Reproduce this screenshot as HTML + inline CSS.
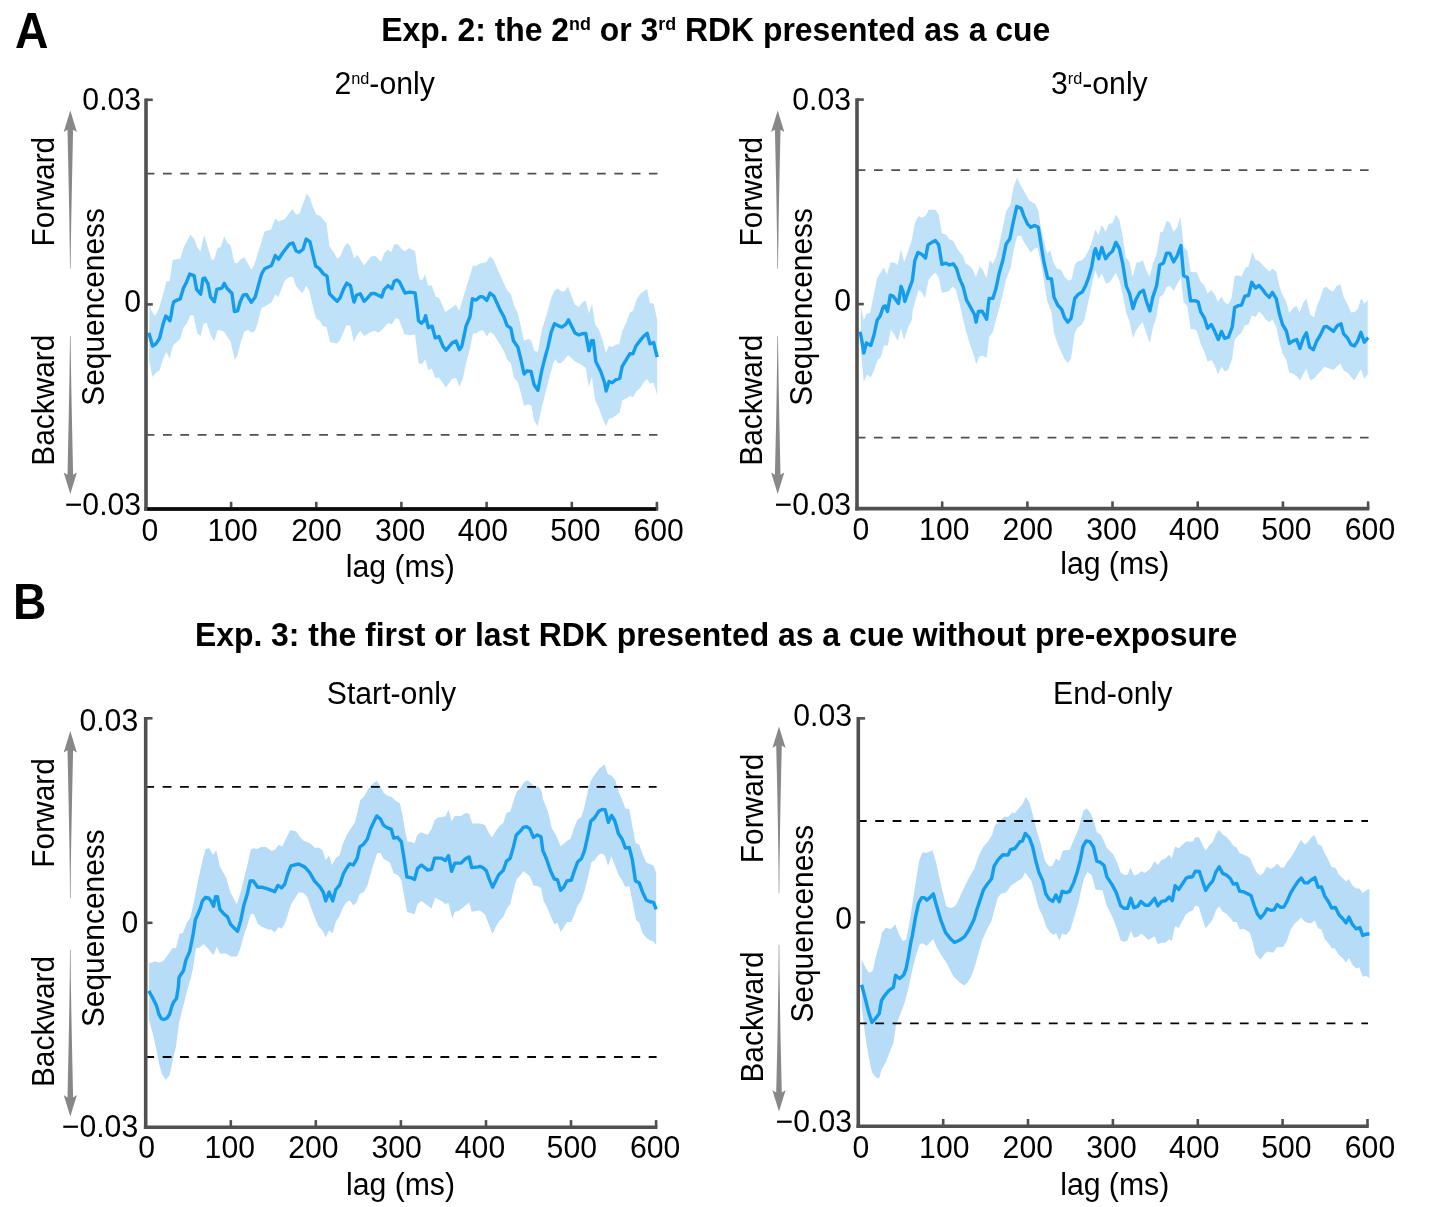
<!DOCTYPE html>
<html lang="en"><head><meta charset="utf-8"><title>Sequenceness figure</title>
<style>
html,body{margin:0;padding:0;background:#fff;}
body{width:1430px;height:1207px;overflow:hidden;}
svg{display:block;will-change:transform;}
text{font-family:"Liberation Sans",Arial,Helvetica,sans-serif;fill:#000;}
.r{font-size:30.2px;}
.b{font-size:31.9px;font-weight:bold;}
.L{font-size:46.3px;font-weight:bold;}
.m{text-anchor:middle;}
.e{text-anchor:end;}
.v{font-size:29.9px;text-anchor:middle;}
</style></head><body>
<svg width="1430" height="1207" viewBox="0 0 1430 1207">
<text transform="translate(15.0 47.8) scale(1 1.09)" class="L">A</text>
<text transform="translate(13.1 618.9) scale(1 1.09)" class="L">B</text>
<text transform="translate(715.7 41.1) scale(1 1.02)" class="b m">Exp. 2: the 2<tspan font-size="56%" dy="-0.62em">nd</tspan><tspan dy="0.347em"> or 3</tspan><tspan font-size="56%" dy="-0.62em">rd</tspan><tspan dy="0.347em"> RDK presented as a cue</tspan></text>
<text transform="translate(716.0 645.7) scale(1 1.02)" class="b m">Exp. 3: the first or last RDK presented as a cue without pre-exposure</text>
<g id="P1">
<path d="M149.4 303.3 L151.3 310.8 L155.1 315.9 L158.9 308.3 L162.7 295.7 L166.4 281.3 L169.6 281.3 L172.7 259.9 L180.3 258.6 L183.4 247.9 L190.3 234.7 L194.1 238.5 L197.3 247.3 L200.4 251.7 L201.7 245.4 L204.2 234.7 L208.0 247.9 L211.7 259.9 L214.3 259.2 L217.4 247.9 L220.6 247.3 L224.3 236.3 L227.5 242.9 L230.6 245.4 L234.4 262.4 L236.9 263.6 L240.7 259.2 L244.5 257.3 L247.6 263.0 L251.4 269.9 L254.5 264.3 L258.3 251.7 L264.6 231.5 L270.9 229.7 L275.3 218.3 L278.5 221.5 L284.8 219.0 L292.3 208.9 L296.1 214.5 L299.2 213.9 L306.8 193.8 L309.9 197.6 L313.1 207.6 L316.2 214.5 L320.0 215.8 L326.4 223.3 L329.5 246.6 L333.9 252.2 L337.1 258.5 L340.2 256.6 L344.0 247.2 L347.1 242.8 L350.3 245.9 L354.1 258.5 L357.2 254.8 L360.3 259.2 L364.1 265.5 L371.0 256.6 L375.5 256.0 L381.1 261.7 L384.3 252.9 L388.0 249.7 L391.2 252.2 L394.3 244.3 L397.5 244.3 L403.1 250.3 L405.7 251.0 L408.8 248.1 L415.1 251.0 L417.6 270.5 L419.5 279.3 L422.0 280.6 L424.8 274.3 L428.3 285.6 L431.8 285.6 L435.9 296.9 L439.0 297.6 L445.3 312.0 L448.5 310.1 L456.0 304.5 L459.2 310.8 L466.1 288.1 L473.0 265.5 L476.2 266.1 L479.9 263.6 L486.2 262.3 L490.0 256.6 L493.2 258.9 L500.1 275.2 L507.1 290.3 L510.8 294.1 L514.0 305.5 L517.8 313.0 L524.1 340.7 L528.5 338.8 L531.4 340.7 L534.1 350.8 L537.9 352.0 L541.7 330.6 L546.7 314.3 L551.7 296.6 L554.9 290.3 L558.0 288.5 L561.8 291.6 L565.0 291.0 L568.1 286.6 L571.3 295.4 L575.0 304.8 L578.8 307.3 L582.6 302.3 L585.7 300.4 L588.9 313.6 L592.0 304.2 L595.2 324.3 L599.0 330.0 L602.7 340.7 L605.9 352.7 L609.0 345.7 L612.2 347.0 L615.9 344.5 L619.1 344.5 L622.2 331.3 L626.0 323.1 L629.8 312.4 L632.9 311.1 L636.7 299.2 L640.5 293.5 L647.0 289.1 L649.9 302.9 L653.7 303.6 L657.2 319.9 L657.2 395.4 L653.7 382.8 L649.9 383.4 L647.2 379.0 L643.6 382.2 L640.5 387.8 L636.7 391.0 L632.9 397.3 L629.8 396.0 L626.0 398.5 L622.2 400.4 L619.7 412.4 L615.9 415.5 L612.2 418.0 L609.0 418.7 L605.9 426.2 L602.7 418.7 L599.0 408.6 L595.2 400.4 L591.8 376.5 L588.9 387.2 L585.7 367.7 L578.8 363.3 L575.0 361.4 L568.1 355.1 L561.8 362.7 L558.0 363.3 L554.9 358.9 L551.1 370.8 L545.5 392.9 L541.7 408.0 L537.7 426.6 L534.1 420.6 L531.4 405.5 L527.8 404.2 L524.1 406.1 L520.9 392.9 L517.8 382.2 L514.0 377.8 L510.8 363.4 L507.1 359.6 L503.9 350.8 L493.8 334.4 L490.0 332.1 L486.9 336.5 L483.1 330.2 L479.9 330.8 L476.2 333.4 L473.0 333.4 L469.9 349.1 L466.1 362.9 L462.9 378.7 L459.4 386.6 L456.0 378.0 L452.2 378.7 L445.7 387.5 L439.0 377.4 L435.2 378.0 L431.8 368.6 L428.3 369.9 L425.2 359.2 L422.0 364.2 L418.5 362.9 L417.0 350.3 L415.1 334.6 L409.4 335.2 L404.4 334.0 L398.7 318.9 L395.6 318.3 L391.8 324.5 L388.0 322.9 L381.7 330.2 L378.0 332.7 L374.8 330.8 L371.0 332.1 L364.1 335.9 L360.3 330.8 L356.6 335.9 L353.8 342.2 L350.3 325.8 L346.5 325.2 L340.2 339.7 L337.1 343.4 L330.1 342.2 L326.4 327.1 L322.6 325.9 L320.0 320.9 L316.2 318.4 L313.1 307.7 L309.3 290.7 L306.2 285.7 L302.4 293.2 L296.1 286.3 L292.9 276.9 L289.2 276.9 L284.8 280.6 L278.5 296.9 L275.3 294.4 L271.5 302.6 L261.5 308.3 L257.1 325.2 L254.8 330.9 L251.8 332.8 L248.0 330.0 L244.5 331.5 L240.7 342.2 L237.6 355.5 L234.7 359.9 L230.6 341.6 L224.3 332.2 L221.2 330.5 L217.4 330.3 L214.3 341.4 L210.5 334.7 L206.7 323.0 L203.6 323.4 L200.7 335.9 L197.3 333.4 L193.5 315.2 L190.3 315.2 L187.2 323.0 L183.4 327.8 L180.3 338.5 L173.0 345.4 L169.6 358.6 L166.4 352.1 L163.3 358.6 L159.5 370.6 L155.7 373.1 L152.6 376.9 L149.1 360.5Z" fill="#c0e2f9"/>
<line x1="145.6" y1="173.7" x2="657.4" y2="173.7" stroke="#505050" stroke-width="1.75" stroke-dasharray="8.8 8.56"/>
<line x1="145.6" y1="434.8" x2="657.4" y2="434.8" stroke="#505050" stroke-width="1.75" stroke-dasharray="8.8 8.56"/>
<path d="M148.8 332.8 L152.6 346.0 L155.7 344.1 L159.5 338.5 L163.3 323.4 L165.8 316.1 L167.1 317.1 L169.8 320.8 L171.2 315.2 L172.5 306.4 L173.7 302.0 L176.5 300.3 L180.3 298.8 L183.4 288.2 L186.6 281.9 L189.7 274.1 L194.1 275.6 L196.6 289.4 L200.7 294.2 L202.9 278.7 L204.8 278.1 L208.0 283.8 L210.5 297.0 L214.3 301.8 L216.8 289.4 L221.8 288.2 L224.3 283.4 L226.9 288.2 L231.9 293.2 L234.4 311.5 L237.6 310.8 L240.1 302.0 L243.2 295.1 L246.4 294.5 L251.4 302.3 L255.2 297.0 L259.0 283.1 L261.5 274.3 L264.6 268.7 L271.5 265.5 L275.3 255.5 L278.5 259.2 L283.5 251.7 L289.2 244.4 L292.9 242.9 L296.1 251.0 L299.2 252.3 L303.0 249.2 L306.2 239.1 L309.9 241.6 L313.1 255.4 L315.7 266.1 L319.4 268.6 L323.2 273.6 L327.0 276.2 L329.5 293.8 L333.9 298.2 L337.1 301.3 L340.2 297.6 L343.4 289.4 L346.8 283.1 L350.5 285.6 L352.8 296.9 L354.1 302.0 L356.6 295.0 L360.3 293.8 L364.1 301.3 L367.3 298.2 L371.0 293.8 L374.8 293.4 L378.6 295.4 L381.7 296.9 L384.3 289.4 L388.0 285.6 L391.8 288.7 L394.3 281.2 L396.9 279.9 L399.4 281.8 L405.0 293.1 L409.4 292.1 L415.1 292.9 L417.0 307.0 L418.5 320.8 L421.4 323.3 L423.9 320.8 L425.6 315.7 L428.3 327.7 L432.1 326.2 L435.2 337.8 L439.0 336.5 L442.8 345.9 L445.9 350.3 L452.2 342.8 L456.0 340.9 L459.4 349.7 L461.7 346.6 L466.1 325.8 L469.9 317.0 L472.4 298.8 L476.2 300.1 L479.9 296.7 L483.1 296.9 L486.9 300.4 L490.0 293.1 L493.8 296.0 L496.4 301.7 L500.1 309.9 L503.9 316.8 L507.1 325.6 L510.8 328.1 L513.4 340.7 L517.8 346.9 L520.9 359.5 L524.1 374.0 L527.2 370.8 L531.0 371.5 L534.1 384.7 L537.9 390.3 L541.7 370.8 L544.8 358.3 L548.0 346.9 L551.1 332.5 L554.5 323.7 L558.0 325.6 L561.8 327.1 L565.6 324.6 L568.5 319.9 L571.3 325.6 L575.0 333.1 L578.8 335.0 L582.0 333.8 L585.7 333.4 L588.9 350.8 L591.4 340.7 L593.3 340.7 L595.8 361.4 L600.8 371.5 L604.6 382.8 L606.1 391.0 L609.0 381.5 L612.2 382.8 L615.9 379.7 L619.7 378.4 L622.2 366.4 L626.0 360.1 L629.8 353.8 L632.9 353.8 L636.1 345.7 L640.5 340.1 L643.6 336.3 L647.2 333.4 L649.9 343.8 L653.7 342.6 L656.2 353.3 L657.2 357.1" fill="none" stroke="#149ced" stroke-width="3.4" stroke-linejoin="round" stroke-linecap="butt"/>
<line x1="231.1" y1="509.0" x2="231.1" y2="501.8" stroke="#505050" stroke-width="2.6"/>
<line x1="316.3" y1="509.0" x2="316.3" y2="501.8" stroke="#505050" stroke-width="2.6"/>
<line x1="401.4" y1="509.0" x2="401.4" y2="501.8" stroke="#505050" stroke-width="2.6"/>
<line x1="486.6" y1="509.0" x2="486.6" y2="501.8" stroke="#505050" stroke-width="2.6"/>
<line x1="571.8" y1="509.0" x2="571.8" y2="501.8" stroke="#505050" stroke-width="2.6"/>
<line x1="656.9" y1="509.0" x2="656.9" y2="501.8" stroke="#505050" stroke-width="2.6"/>
<line x1="146.0" y1="99.8" x2="152.8" y2="99.8" stroke="#505050" stroke-width="2.6"/>
<line x1="146.0" y1="304.4" x2="152.8" y2="304.4" stroke="#505050" stroke-width="2.6"/>
<line x1="146.0" y1="98.5" x2="146.0" y2="510.8" stroke="#505050" stroke-width="3.6"/>
<line x1="144.2" y1="509.0" x2="658.2" y2="509.0" stroke="#505050" stroke-width="3.6"/>
<line x1="147.3" y1="509.0" x2="656.1" y2="509.0" stroke="#0a0a0a" stroke-width="3.6"/>
<text transform="translate(150.0 540.8) scale(1 1.045)" class="r m">0</text>
<text transform="translate(232.6 540.8) scale(1 1.045)" class="r m">100</text>
<text transform="translate(316.5 540.8) scale(1 1.045)" class="r m">200</text>
<text transform="translate(400.1 540.8) scale(1 1.045)" class="r m">300</text>
<text transform="translate(482.9 540.8) scale(1 1.045)" class="r m">400</text>
<text transform="translate(575.4 540.8) scale(1 1.045)" class="r m">500</text>
<text transform="translate(658.6 540.8) scale(1 1.045)" class="r m">600</text>
<text transform="translate(400.4 577.0) scale(1 1.02)" class="r m">lag (ms)</text>
<text transform="translate(141.1 109.5) scale(1 1.045)" class="r e">0.03</text>
<text transform="translate(141.1 311.5) scale(1 1.045)" class="r e">0</text>
<text transform="translate(141.1 514.7) scale(1 1.045)" class="r e">−0.03</text>
<text transform="translate(384.6 93.6) scale(1 1.02)" class="r m">2<tspan font-size="54%" dy="-0.56em">nd</tspan><tspan dy="0.302em">-only</tspan></text>
<text transform="translate(104.2 306.9) rotate(-90) scale(1 1.02)" class="v">Sequenceness</text>
<text transform="translate(54.3 191.6) rotate(-90) scale(1 1.02)" class="v">Forward</text>
<text transform="translate(54.3 400.2) rotate(-90) scale(1 1.02)" class="v">Backward</text>
<path d="M70.3 110.6 L76.9 132.0 L73.1 129.7 L72.0 181.4 L71.3 217.4 L70.8 250.4 L70.6 268.4 L70.0 268.4 L69.8 250.4 L69.3 217.4 L68.6 181.4 L67.5 129.7 L63.7 132.0Z" fill="#888888"/>
<path d="M70.3 493.9 L76.9 472.5 L73.1 474.8 L72.0 423.1 L71.3 387.1 L70.8 354.1 L70.6 336.1 L70.0 336.1 L69.8 354.1 L69.3 387.1 L68.6 423.1 L67.5 474.8 L63.7 472.5Z" fill="#888888"/>
</g>
<g id="P2">
<path d="M860.7 307.1 L863.8 320.3 L866.4 314.1 L870.1 312.8 L873.3 297.1 L877.1 278.2 L883.7 267.6 L887.1 274.5 L890.3 262.5 L894.1 262.5 L897.8 265.0 L901.0 249.3 L904.1 261.9 L907.9 251.8 L911.7 240.5 L914.8 222.9 L918.6 215.9 L921.7 217.8 L925.5 215.9 L928.7 209.7 L935.6 209.7 L938.7 214.7 L941.9 233.6 L945.7 234.2 L949.4 239.2 L953.2 241.1 L958.3 250.6 L962.7 255.6 L965.8 263.8 L969.6 265.7 L972.7 269.4 L975.9 277.0 L979.7 266.3 L982.8 270.1 L986.6 278.3 L989.7 260.0 L992.9 263.8 L996.0 256.9 L999.2 244.3 L1006.1 211.5 L1010.5 204.0 L1013.6 186.4 L1017.2 177.6 L1019.9 183.8 L1025.0 192.7 L1029.4 200.8 L1035.1 204.0 L1038.3 210.3 L1040.8 227.3 L1043.9 240.5 L1047.1 253.7 L1050.2 249.9 L1053.4 262.5 L1057.1 268.8 L1060.9 269.4 L1064.7 277.0 L1068.5 280.8 L1071.6 279.5 L1074.8 264.4 L1077.9 261.3 L1081.7 260.6 L1085.5 256.2 L1089.2 248.7 L1093.0 238.0 L1095.5 229.2 L1098.3 235.5 L1101.8 224.8 L1105.6 231.7 L1108.7 224.1 L1112.5 222.9 L1115.9 214.7 L1119.4 219.7 L1122.6 235.5 L1125.7 256.9 L1129.5 261.9 L1132.7 277.0 L1136.4 262.5 L1139.6 262.5 L1142.7 260.0 L1146.5 270.7 L1149.7 276.4 L1152.8 263.8 L1156.6 253.7 L1160.3 232.3 L1162.9 231.7 L1166.6 221.0 L1169.8 222.2 L1173.6 231.7 L1177.3 227.3 L1180.5 216.6 L1183.6 246.8 L1187.4 250.6 L1190.6 272.0 L1196.9 272.2 L1200.7 281.7 L1204.5 285.5 L1207.6 293.6 L1211.4 289.9 L1215.2 295.5 L1217.9 301.8 L1221.5 296.8 L1225.2 303.1 L1228.4 304.3 L1231.5 298.0 L1234.7 276.0 L1238.5 275.4 L1241.6 276.6 L1245.4 267.8 L1248.5 266.6 L1252.3 252.1 L1255.5 259.7 L1259.0 260.9 L1262.4 264.7 L1265.5 267.8 L1269.3 271.6 L1272.4 268.5 L1276.2 271.6 L1279.4 286.1 L1282.5 294.9 L1286.3 301.8 L1289.2 313.1 L1293.2 308.1 L1296.7 305.6 L1299.5 313.1 L1303.3 302.4 L1306.4 298.7 L1310.2 314.4 L1314.0 317.6 L1316.5 306.9 L1320.3 298.0 L1323.4 288.0 L1326.6 286.7 L1329.7 289.9 L1332.9 291.7 L1336.6 286.1 L1340.4 284.2 L1343.6 296.8 L1347.3 303.7 L1351.1 312.5 L1354.3 311.9 L1358.0 308.7 L1361.2 298.0 L1364.3 303.7 L1367.7 299.9 L1367.7 374.3 L1364.3 378.7 L1360.9 369.3 L1358.0 374.3 L1354.3 380.6 L1351.1 376.9 L1347.3 372.4 L1343.6 370.6 L1340.4 363.6 L1337.3 366.2 L1333.5 369.9 L1326.6 367.4 L1324.1 366.8 L1320.3 371.8 L1316.5 375.6 L1314.0 378.7 L1310.2 380.6 L1306.4 368.7 L1303.3 374.3 L1299.9 380.6 L1296.7 376.2 L1293.2 373.7 L1289.2 372.4 L1286.3 359.9 L1282.5 353.6 L1279.4 341.6 L1276.2 327.1 L1272.4 319.6 L1269.3 322.1 L1265.5 319.6 L1262.4 314.5 L1259.0 311.4 L1255.5 317.1 L1251.7 315.2 L1248.5 324.6 L1244.8 325.2 L1241.6 332.8 L1238.5 335.3 L1234.7 339.7 L1232.2 358.6 L1228.4 369.3 L1225.2 371.8 L1221.5 366.8 L1217.9 374.3 L1214.5 364.9 L1211.4 359.9 L1207.6 361.7 L1204.5 352.3 L1200.7 344.1 L1196.9 330.9 L1193.8 329.0 L1190.6 329.2 L1187.4 306.5 L1183.6 302.1 L1180.9 277.6 L1177.3 283.8 L1173.6 290.8 L1169.8 285.7 L1166.6 287.0 L1163.5 294.5 L1159.7 297.1 L1156.6 315.9 L1152.8 328.5 L1149.7 343.0 L1146.5 333.6 L1142.7 322.2 L1139.6 325.4 L1135.8 331.0 L1133.0 338.0 L1129.5 321.6 L1126.4 313.4 L1122.6 294.5 L1119.4 280.7 L1115.9 272.5 L1112.5 278.2 L1109.4 282.6 L1106.2 283.8 L1101.8 273.8 L1098.7 278.8 L1095.3 270.6 L1092.4 282.6 L1088.6 300.8 L1084.2 320.3 L1081.7 324.8 L1077.9 327.3 L1074.8 332.9 L1072.9 345.5 L1071.0 358.7 L1067.8 363.1 L1064.7 359.4 L1061.5 352.4 L1057.8 344.3 L1054.0 332.9 L1051.5 312.2 L1047.1 300.8 L1043.9 280.8 L1040.8 261.9 L1037.6 247.4 L1034.5 248.7 L1030.7 252.4 L1023.8 241.7 L1021.2 236.1 L1017.2 236.1 L1013.6 250.6 L1010.5 268.2 L1006.1 279.4 L1002.9 293.9 L999.2 308.4 L996.0 319.7 L992.9 331.7 L989.1 337.3 L986.6 358.1 L982.2 355.6 L979.0 356.9 L976.3 364.4 L974.6 358.1 L970.8 346.8 L966.4 332.9 L963.3 320.3 L959.5 303.4 L955.7 289.5 L952.6 286.4 L949.4 290.8 L945.7 292.0 L941.9 292.7 L938.7 277.6 L935.6 272.5 L931.8 275.7 L928.7 279.4 L924.9 298.3 L921.7 292.0 L918.6 290.1 L915.5 300.8 L912.9 309.0 L911.7 320.3 L907.9 327.9 L904.1 339.9 L901.0 328.5 L897.8 341.1 L894.1 334.2 L890.9 329.8 L887.8 345.5 L884.0 345.5 L880.8 356.9 L877.7 360.0 L873.9 370.7 L870.8 377.6 L867.0 374.5 L863.8 382.0 L860.7 350.6Z" fill="#c0e2f9"/>
<line x1="856.6" y1="170.2" x2="1368.6" y2="170.2" stroke="#505050" stroke-width="1.75" stroke-dasharray="8.8 8.56"/>
<line x1="856.6" y1="437.5" x2="1368.6" y2="437.5" stroke="#505050" stroke-width="1.75" stroke-dasharray="8.8 8.56"/>
<path d="M860.1 331.7 L862.0 341.7 L863.8 353.1 L866.4 343.0 L870.8 345.5 L873.9 335.5 L877.1 320.3 L880.2 315.9 L883.4 306.5 L885.2 305.9 L887.5 311.5 L890.3 295.2 L893.4 296.4 L898.5 303.4 L901.0 286.4 L902.9 290.8 L904.8 301.5 L907.9 292.7 L912.3 280.7 L914.8 260.6 L918.0 252.4 L921.7 254.3 L925.5 258.1 L928.0 244.9 L931.8 242.4 L935.3 240.5 L938.7 244.9 L941.9 264.4 L945.7 263.1 L949.4 265.0 L953.2 263.8 L956.4 268.2 L959.5 278.3 L963.3 287.1 L966.4 299.7 L970.8 307.8 L974.6 314.8 L976.1 322.2 L978.4 311.5 L982.2 311.3 L986.6 319.3 L989.1 298.4 L992.9 298.4 L996.0 288.3 L999.2 273.2 L1002.9 260.0 L1006.1 244.3 L1009.9 238.6 L1013.6 220.3 L1016.8 206.5 L1021.2 208.4 L1023.8 215.9 L1027.6 224.1 L1030.7 227.3 L1034.5 225.4 L1038.3 227.3 L1040.8 243.0 L1043.9 261.9 L1047.7 278.3 L1051.5 278.9 L1054.0 297.1 L1057.8 305.3 L1061.5 309.1 L1064.7 317.8 L1067.8 322.2 L1071.0 318.5 L1072.9 308.4 L1074.8 298.3 L1077.9 294.6 L1082.3 292.1 L1085.5 285.8 L1088.6 277.6 L1091.7 266.9 L1094.3 251.8 L1095.5 248.7 L1098.7 258.7 L1101.8 247.4 L1105.6 258.7 L1109.4 253.7 L1112.5 251.2 L1115.9 242.4 L1119.4 248.7 L1122.6 263.1 L1126.4 286.4 L1129.5 293.4 L1133.0 308.5 L1135.8 299.7 L1139.6 292.7 L1143.4 290.2 L1146.5 301.5 L1149.9 311.0 L1152.8 297.1 L1156.6 285.8 L1159.7 265.0 L1163.5 263.1 L1166.6 253.1 L1169.8 253.1 L1173.6 261.9 L1177.3 255.6 L1180.9 245.5 L1183.6 275.7 L1187.4 277.6 L1190.6 300.9 L1195.0 300.6 L1198.2 301.8 L1200.7 311.9 L1204.5 318.2 L1207.6 328.3 L1211.4 324.5 L1214.5 330.8 L1218.3 339.6 L1221.5 331.4 L1224.6 338.3 L1228.4 337.1 L1232.2 327.0 L1234.7 307.5 L1238.5 305.6 L1241.6 305.0 L1244.8 296.2 L1248.5 295.5 L1251.7 282.3 L1255.5 288.0 L1259.0 285.5 L1262.4 289.2 L1265.5 293.6 L1269.3 297.4 L1272.4 292.4 L1276.2 298.7 L1279.4 313.8 L1282.5 324.5 L1286.3 330.8 L1289.4 343.4 L1293.2 340.8 L1296.7 339.6 L1299.9 348.4 L1303.3 338.3 L1306.4 332.7 L1309.6 347.1 L1313.4 349.7 L1316.5 341.5 L1320.3 335.2 L1324.1 327.0 L1326.6 326.4 L1333.5 331.4 L1337.3 325.7 L1341.0 323.8 L1343.6 333.9 L1347.3 337.7 L1351.1 344.6 L1354.3 345.9 L1357.4 341.5 L1360.9 332.3 L1364.3 342.1 L1368.1 337.7" fill="none" stroke="#149ced" stroke-width="3.4" stroke-linejoin="round" stroke-linecap="butt"/>
<line x1="942.2" y1="508.6" x2="942.2" y2="501.4" stroke="#505050" stroke-width="2.6"/>
<line x1="1027.4" y1="508.6" x2="1027.4" y2="501.4" stroke="#505050" stroke-width="2.6"/>
<line x1="1112.5" y1="508.6" x2="1112.5" y2="501.4" stroke="#505050" stroke-width="2.6"/>
<line x1="1197.7" y1="508.6" x2="1197.7" y2="501.4" stroke="#505050" stroke-width="2.6"/>
<line x1="1282.9" y1="508.6" x2="1282.9" y2="501.4" stroke="#505050" stroke-width="2.6"/>
<line x1="1368.1" y1="508.6" x2="1368.1" y2="501.4" stroke="#505050" stroke-width="2.6"/>
<line x1="857.0" y1="99.6" x2="863.8" y2="99.6" stroke="#505050" stroke-width="2.6"/>
<line x1="857.0" y1="304.1" x2="863.8" y2="304.1" stroke="#505050" stroke-width="2.6"/>
<line x1="857.0" y1="98.3" x2="857.0" y2="510.4" stroke="#505050" stroke-width="3.6"/>
<line x1="855.2" y1="508.6" x2="1369.4" y2="508.6" stroke="#505050" stroke-width="3.6"/>
<text transform="translate(861.0 540.3) scale(1 1.045)" class="r m">0</text>
<text transform="translate(944.3 540.3) scale(1 1.045)" class="r m">100</text>
<text transform="translate(1027.8 540.3) scale(1 1.045)" class="r m">200</text>
<text transform="translate(1111.5 540.3) scale(1 1.045)" class="r m">300</text>
<text transform="translate(1194.3 540.3) scale(1 1.045)" class="r m">400</text>
<text transform="translate(1286.4 540.3) scale(1 1.045)" class="r m">500</text>
<text transform="translate(1370.0 540.3) scale(1 1.045)" class="r m">600</text>
<text transform="translate(1114.7 574.3) scale(1 1.02)" class="r m">lag (ms)</text>
<text transform="translate(851.0 109.8) scale(1 1.045)" class="r e">0.03</text>
<text transform="translate(851.0 311.4) scale(1 1.045)" class="r e">0</text>
<text transform="translate(851.0 515.1) scale(1 1.045)" class="r e">−0.03</text>
<text transform="translate(1099.3 93.5) scale(1 1.02)" class="r m">3<tspan font-size="54%" dy="-0.56em">rd</tspan><tspan dy="0.302em">-only</tspan></text>
<text transform="translate(811.6 306.9) rotate(-90) scale(1 1.02)" class="v">Sequenceness</text>
<text transform="translate(761.7 191.6) rotate(-90) scale(1 1.02)" class="v">Forward</text>
<text transform="translate(761.7 400.2) rotate(-90) scale(1 1.02)" class="v">Backward</text>
<path d="M777.7 110.6 L784.3 132.0 L780.5 129.7 L779.4 181.4 L778.7 217.4 L778.2 250.4 L778.0 268.4 L777.4 268.4 L777.2 250.4 L776.7 217.4 L776.1 181.4 L774.9 129.7 L771.1 132.0Z" fill="#888888"/>
<path d="M777.7 493.9 L784.3 472.5 L780.5 474.8 L779.4 423.1 L778.7 387.1 L778.2 354.1 L778.0 336.1 L777.4 336.1 L777.2 354.1 L776.7 387.1 L776.1 423.1 L774.9 474.8 L771.1 472.5Z" fill="#888888"/>
</g>
<g id="P3">
<path d="M149.1 963.2 L155.1 961.6 L158.9 962.6 L162.7 961.6 L167.1 955.9 L172.7 947.7 L175.9 948.3 L179.7 933.2 L182.8 933.2 L186.6 923.1 L190.3 918.1 L194.1 900.5 L197.9 881.6 L201.7 864.0 L205.5 848.9 L209.2 848.3 L213.0 855.2 L216.2 850.1 L219.9 866.5 L226.2 877.8 L230.6 892.9 L236.9 904.3 L240.7 891.7 L244.5 876.6 L247.6 864.0 L250.8 849.5 L253.9 848.3 L257.1 848.9 L260.8 847.0 L265.9 847.0 L271.5 850.8 L274.7 850.1 L278.5 845.1 L282.2 846.4 L286.0 838.8 L290.4 830.0 L296.1 831.3 L299.9 836.9 L303.6 840.7 L309.9 843.2 L315.0 848.0 L318.8 847.4 L322.6 850.6 L325.7 860.0 L329.1 855.6 L332.0 865.0 L335.8 858.1 L339.6 855.6 L342.7 844.3 L346.5 835.5 L350.3 829.2 L354.7 822.9 L358.5 807.8 L360.3 800.2 L364.1 796.4 L367.9 789.5 L371.7 784.5 L376.7 780.7 L379.9 785.7 L383.6 792.7 L387.4 795.8 L391.8 797.1 L395.6 800.8 L400.0 803.4 L402.5 815.3 L405.0 830.4 L407.6 841.7 L410.7 841.7 L414.5 843.6 L417.0 835.5 L420.8 832.3 L427.7 834.8 L431.5 829.2 L434.6 820.3 L438.4 817.2 L445.3 816.6 L448.5 809.7 L451.6 821.6 L454.8 815.9 L461.0 815.9 L466.1 812.8 L469.2 814.1 L472.4 823.5 L478.7 823.5 L480.0 823.6 L485.0 824.9 L488.8 833.0 L492.0 837.4 L495.7 831.2 L499.5 826.1 L503.3 823.0 L506.4 812.9 L510.2 811.6 L513.4 801.6 L516.5 792.1 L520.3 788.4 L524.1 782.1 L527.8 780.2 L531.0 783.3 L534.1 786.5 L538.5 786.5 L541.7 791.5 L542.9 799.1 L548.0 811.6 L551.7 828.0 L556.2 835.6 L560.6 846.3 L563.7 843.7 L567.5 840.6 L570.6 838.7 L573.8 828.6 L577.6 819.2 L581.3 817.3 L584.5 806.6 L588.3 789.6 L590.8 780.8 L594.5 775.1 L599.0 768.8 L604.6 764.4 L607.8 773.9 L611.5 775.8 L615.3 780.2 L618.5 791.5 L622.2 799.7 L625.4 808.5 L629.2 809.1 L632.3 825.5 L635.5 843.1 L639.2 844.4 L642.4 853.8 L646.2 862.6 L649.9 863.9 L653.7 865.8 L656.2 873.3 L656.2 945.2 L653.5 941.5 L649.9 940.2 L646.2 937.7 L642.4 932.7 L639.2 922.6 L636.1 920.1 L632.3 900.6 L629.2 886.1 L625.4 887.3 L622.2 880.4 L618.5 874.8 L614.7 864.7 L611.5 856.5 L608.1 865.9 L605.2 855.9 L602.1 853.4 L599.0 854.6 L594.5 860.3 L591.4 862.2 L588.3 876.0 L584.5 891.1 L581.3 900.6 L577.6 905.6 L574.4 914.4 L571.3 922.0 L566.9 922.0 L563.7 927.6 L560.6 932.0 L557.4 922.6 L554.3 924.5 L550.5 915.7 L547.3 908.1 L543.6 900.6 L541.0 888.0 L537.3 886.1 L533.5 885.5 L529.7 876.0 L523.4 871.0 L520.3 875.4 L516.5 879.2 L513.4 891.1 L510.2 904.3 L506.4 909.4 L503.3 916.9 L499.5 920.7 L495.7 927.0 L492.6 933.9 L488.8 924.5 L485.0 914.4 L480.0 910.6 L478.7 910.4 L471.7 911.7 L469.2 902.2 L465.5 905.4 L458.5 911.0 L454.8 911.7 L452.2 918.6 L448.5 902.9 L445.3 904.1 L441.5 901.0 L435.2 897.8 L431.5 908.5 L427.7 905.4 L421.4 901.0 L417.6 904.1 L414.5 914.2 L410.7 912.9 L406.9 911.7 L403.8 894.1 L401.3 880.2 L398.1 875.2 L393.7 873.3 L389.9 862.6 L383.6 858.8 L380.5 853.1 L377.3 853.1 L374.2 862.0 L370.4 874.5 L367.3 885.9 L363.5 892.2 L359.7 894.1 L356.6 902.2 L353.4 905.4 L349.7 900.3 L346.5 902.2 L343.4 906.6 L339.6 916.1 L335.8 921.7 L332.7 933.1 L328.9 930.6 L325.7 937.5 L322.6 930.6 L318.8 926.8 L314.4 916.7 L311.2 908.0 L307.4 897.3 L303.6 892.9 L298.6 892.3 L294.8 898.6 L291.0 904.3 L287.9 914.3 L284.8 923.8 L281.6 928.8 L278.5 926.9 L274.7 932.6 L271.5 929.4 L268.4 929.4 L260.8 926.3 L257.7 923.8 L253.9 914.3 L250.8 913.7 L247.6 924.4 L243.8 935.7 L240.1 949.0 L236.9 956.5 L230.6 956.5 L226.2 953.4 L219.9 953.4 L216.8 946.4 L213.6 955.2 L207.3 947.7 L203.6 943.9 L199.2 947.7 L196.0 948.3 L192.9 968.9 L191.0 977.1 L186.6 992.8 L182.8 1007.9 L179.0 1023.0 L175.9 1046.9 L172.1 1063.3 L169.6 1075.2 L165.8 1079.7 L162.0 1074.0 L158.9 1063.3 L156.4 1049.4 L152.6 1033.1 L149.1 1020.5Z" fill="#b6dcf7"/>
<line x1="145.29999999999998" y1="786.9" x2="656.6" y2="786.9" stroke="#050505" stroke-width="1.85" stroke-dasharray="8.8 8.56"/>
<line x1="145.29999999999998" y1="1057.0" x2="656.6" y2="1057.0" stroke="#050505" stroke-width="1.85" stroke-dasharray="8.8 8.56"/>
<path d="M148.8 990.9 L152.6 997.8 L156.4 1005.4 L158.9 1014.2 L161.4 1018.6 L163.9 1019.5 L167.1 1018.0 L169.6 1014.2 L172.1 1005.4 L174.0 1001.6 L176.5 998.5 L178.4 986.5 L179.0 977.7 L180.9 974.5 L183.4 970.8 L185.9 960.1 L189.7 951.3 L192.9 935.7 L195.4 919.4 L197.3 915.6 L200.4 908.0 L202.3 901.1 L205.5 897.3 L208.6 898.0 L211.1 901.1 L213.6 906.2 L215.5 896.7 L217.4 896.7 L219.9 909.3 L223.7 913.7 L227.5 916.9 L230.6 924.4 L234.4 928.2 L237.6 931.3 L240.7 920.6 L243.8 905.5 L247.6 892.9 L250.1 881.0 L253.3 881.0 L257.7 887.3 L262.7 887.3 L268.4 889.2 L274.7 891.7 L277.8 885.4 L281.6 887.9 L284.8 884.1 L287.9 873.4 L291.0 865.9 L298.6 864.0 L304.9 867.1 L309.9 872.8 L314.4 880.8 L320.1 887.1 L323.2 892.1 L325.7 900.9 L329.1 892.1 L332.7 900.9 L335.8 889.6 L339.6 885.2 L343.4 873.8 L346.5 868.2 L349.7 863.8 L353.4 865.0 L357.2 858.1 L359.7 846.8 L363.5 844.3 L367.3 839.2 L370.4 829.2 L374.2 821.0 L376.7 815.9 L380.5 819.1 L383.6 825.4 L387.4 827.9 L391.2 829.2 L393.7 838.0 L397.5 837.3 L401.3 841.7 L403.8 856.9 L406.9 877.0 L410.7 877.6 L414.5 879.5 L417.6 868.2 L421.4 865.0 L427.7 870.1 L431.5 869.4 L434.6 858.1 L440.9 858.1 L445.3 860.6 L448.5 855.6 L451.6 871.3 L454.8 863.1 L461.0 863.1 L465.5 858.7 L469.2 856.9 L471.7 867.6 L478.7 866.9 L480.0 866.4 L483.1 867.7 L486.3 870.8 L489.4 879.6 L492.6 887.2 L495.7 880.9 L498.9 874.6 L503.3 870.2 L506.4 861.4 L510.2 858.2 L513.4 846.9 L516.3 834.9 L519.7 831.8 L523.4 827.4 L526.6 826.7 L529.7 828.6 L533.5 837.4 L537.3 834.9 L541.0 836.8 L542.9 850.7 L546.7 859.5 L550.5 870.8 L554.3 879.0 L557.4 879.6 L560.6 890.3 L563.7 887.2 L566.9 880.9 L571.3 880.2 L574.4 870.8 L577.6 862.0 L581.3 858.8 L584.5 850.7 L587.6 836.8 L590.8 821.1 L594.5 817.9 L599.0 811.0 L602.1 809.4 L605.2 809.8 L608.4 822.3 L611.5 815.4 L614.7 820.5 L618.5 833.7 L622.2 839.3 L625.4 848.1 L629.2 847.5 L632.3 859.5 L635.5 880.9 L639.2 882.8 L642.4 891.7 L646.2 899.9 L649.9 901.8 L653.5 902.4 L656.2 909.4" fill="none" stroke="#149ced" stroke-width="3.4" stroke-linejoin="round" stroke-linecap="butt"/>
<line x1="230.8" y1="1127.3" x2="230.8" y2="1120.1" stroke="#505050" stroke-width="2.6"/>
<line x1="315.8" y1="1127.3" x2="315.8" y2="1120.1" stroke="#505050" stroke-width="2.6"/>
<line x1="400.9" y1="1127.3" x2="400.9" y2="1120.1" stroke="#505050" stroke-width="2.6"/>
<line x1="486.0" y1="1127.3" x2="486.0" y2="1120.1" stroke="#505050" stroke-width="2.6"/>
<line x1="571.0" y1="1127.3" x2="571.0" y2="1120.1" stroke="#505050" stroke-width="2.6"/>
<line x1="656.1" y1="1127.3" x2="656.1" y2="1120.1" stroke="#505050" stroke-width="2.6"/>
<line x1="145.7" y1="718.3" x2="152.5" y2="718.3" stroke="#505050" stroke-width="2.6"/>
<line x1="145.7" y1="922.8" x2="152.5" y2="922.8" stroke="#505050" stroke-width="2.6"/>
<line x1="145.7" y1="717.0" x2="145.7" y2="1129.1" stroke="#505050" stroke-width="3.6"/>
<line x1="143.9" y1="1127.3" x2="657.4" y2="1127.3" stroke="#505050" stroke-width="3.6"/>
<text transform="translate(146.6 1157.7) scale(1 1.045)" class="r m">0</text>
<text transform="translate(229.8 1157.7) scale(1 1.045)" class="r m">100</text>
<text transform="translate(313.4 1157.7) scale(1 1.045)" class="r m">200</text>
<text transform="translate(396.6 1157.7) scale(1 1.045)" class="r m">300</text>
<text transform="translate(480.0 1157.7) scale(1 1.045)" class="r m">400</text>
<text transform="translate(571.8 1157.7) scale(1 1.045)" class="r m">500</text>
<text transform="translate(655.1 1157.7) scale(1 1.045)" class="r m">600</text>
<text transform="translate(400.5 1194.8) scale(1 1.02)" class="r m">lag (ms)</text>
<text transform="translate(138.2 730.6) scale(1 1.045)" class="r e">0.03</text>
<text transform="translate(138.2 932.7) scale(1 1.045)" class="r e">0</text>
<text transform="translate(138.2 1137.1) scale(1 1.045)" class="r e">−0.03</text>
<text transform="translate(391.4 704.2) scale(1 1.02)" class="r m">Start-only</text>
<text transform="translate(104.2 928.2) rotate(-90) scale(1 1.02)" class="v">Sequenceness</text>
<text transform="translate(54.3 812.9) rotate(-90) scale(1 1.02)" class="v">Forward</text>
<text transform="translate(54.3 1021.5) rotate(-90) scale(1 1.02)" class="v">Backward</text>
<path d="M70.3 731.1 L76.9 752.5 L73.1 750.2 L72.0 801.9 L71.3 837.9 L70.8 870.9 L70.6 897.9 L70.0 897.9 L69.8 870.9 L69.3 837.9 L68.6 801.9 L67.5 750.2 L63.7 752.5Z" fill="#888888"/>
<path d="M70.3 1116.5 L76.9 1095.1 L73.1 1097.4 L72.0 1045.7 L71.3 1009.7 L70.8 976.7 L70.6 949.7 L70.0 949.7 L69.8 976.7 L69.3 1009.7 L68.6 1045.7 L67.5 1097.4 L63.7 1095.1Z" fill="#888888"/>
</g>
<g id="P4">
<path d="M861.6 959.6 L865.1 966.5 L868.9 972.8 L872.7 970.9 L875.8 957.1 L879.6 943.8 L882.1 932.2 L885.9 927.8 L890.9 929.0 L895.3 924.6 L899.1 934.7 L902.9 941.0 L906.0 939.7 L909.8 920.8 L914.2 891.9 L919.2 860.4 L922.4 852.2 L926.2 852.9 L932.4 850.3 L936.2 862.9 L940.6 883.1 L946.3 906.4 L950.7 908.0 L953.8 907.0 L957.0 903.2 L960.8 894.4 L968.3 879.3 L974.6 868.0 L978.4 856.6 L983.4 846.6 L988.5 840.9 L992.2 834.6 L994.8 825.2 L999.8 821.4 L1004.2 816.4 L1008.0 817.0 L1012.4 812.6 L1014.9 813.2 L1018.7 808.2 L1022.4 804.4 L1025.7 796.9 L1029.4 802.0 L1032.6 813.9 L1037.0 831.5 L1040.8 844.1 L1045.2 861.7 L1049.6 866.8 L1052.7 865.5 L1055.9 858.6 L1059.3 861.1 L1062.8 850.4 L1069.7 849.8 L1074.1 839.1 L1078.5 829.0 L1081.0 819.0 L1083.6 810.8 L1086.7 808.3 L1090.5 813.3 L1093.6 820.2 L1096.8 832.2 L1101.2 835.3 L1106.9 847.9 L1113.1 854.2 L1116.9 861.7 L1120.7 872.4 L1124.5 875.0 L1127.6 875.0 L1130.5 867.4 L1133.9 875.6 L1137.7 874.3 L1141.5 871.2 L1144.6 873.1 L1150.3 868.7 L1154.7 861.1 L1157.8 864.9 L1161.6 859.9 L1165.4 858.6 L1169.2 854.8 L1171.7 858.6 L1175.1 846.6 L1178.6 848.5 L1182.4 844.8 L1186.2 841.6 L1193.1 841.6 L1195.0 837.6 L1198.8 836.9 L1202.6 845.1 L1205.7 850.8 L1209.5 845.1 L1212.7 842.0 L1215.8 834.4 L1219.2 830.0 L1222.7 834.4 L1226.5 836.9 L1230.3 841.3 L1233.4 845.7 L1236.6 847.6 L1239.7 853.3 L1243.5 854.5 L1249.8 857.7 L1254.2 867.8 L1257.3 873.4 L1260.5 875.3 L1263.6 872.8 L1266.8 866.5 L1270.6 869.0 L1274.1 867.1 L1277.1 863.4 L1280.6 867.5 L1283.8 867.5 L1287.6 861.5 L1290.7 857.7 L1294.5 851.4 L1298.3 844.5 L1301.0 840.1 L1304.5 844.5 L1307.7 842.6 L1311.5 836.9 L1314.6 835.0 L1318.1 844.5 L1321.5 845.7 L1324.7 853.3 L1328.5 860.2 L1331.6 867.1 L1335.4 867.8 L1338.5 874.1 L1342.9 878.5 L1346.1 881.6 L1348.9 879.1 L1352.4 885.4 L1356.2 888.5 L1359.3 888.5 L1362.7 892.9 L1366.2 890.4 L1369.4 888.5 L1369.4 977.9 L1366.2 976.0 L1362.7 976.6 L1359.3 967.2 L1356.2 968.5 L1352.4 964.7 L1348.9 957.8 L1346.1 962.8 L1342.9 958.4 L1338.5 954.6 L1334.8 948.3 L1331.6 948.3 L1328.5 943.3 L1324.7 938.9 L1321.5 929.4 L1318.1 928.2 L1314.9 920.6 L1311.5 922.9 L1307.7 923.1 L1304.5 921.3 L1301.0 917.5 L1298.3 920.6 L1294.5 923.8 L1290.7 929.4 L1286.9 940.8 L1283.1 947.1 L1277.1 947.1 L1273.1 952.7 L1267.0 951.5 L1263.6 955.2 L1260.5 959.7 L1255.5 954.0 L1252.3 940.8 L1249.8 932.6 L1243.5 928.8 L1239.7 929.4 L1236.6 921.9 L1233.4 921.9 L1230.3 918.1 L1226.5 913.7 L1222.7 911.8 L1219.2 906.2 L1215.8 910.6 L1212.7 919.4 L1209.5 923.8 L1205.7 928.2 L1202.6 919.4 L1198.8 906.8 L1195.0 905.5 L1193.1 910.3 L1189.9 911.6 L1186.2 914.1 L1181.7 922.3 L1178.6 928.0 L1175.1 926.1 L1171.7 941.2 L1169.2 939.3 L1164.8 943.1 L1161.6 942.4 L1157.8 944.6 L1154.7 936.2 L1148.4 939.9 L1141.5 933.6 L1137.7 936.8 L1133.9 937.4 L1130.8 931.1 L1127.6 940.6 L1124.5 941.8 L1120.7 940.6 L1116.9 928.6 L1112.5 917.3 L1106.9 905.9 L1102.4 890.2 L1095.5 889.6 L1091.7 875.1 L1087.3 872.0 L1084.2 878.3 L1081.7 887.7 L1078.5 902.2 L1074.8 914.8 L1070.3 929.9 L1065.9 934.9 L1062.2 933.6 L1059.3 940.6 L1055.9 933.0 L1054.0 934.9 L1050.2 932.4 L1046.4 927.3 L1042.7 916.0 L1038.9 908.5 L1035.1 894.6 L1031.3 880.8 L1025.0 872.6 L1022.4 878.0 L1018.7 880.6 L1015.5 882.4 L1011.1 885.6 L1006.1 892.5 L1001.0 893.8 L997.9 897.6 L994.1 910.8 L991.6 920.8 L987.2 929.0 L982.2 940.1 L979.0 951.4 L975.2 965.2 L971.5 975.9 L967.7 982.2 L963.9 985.4 L959.5 982.2 L953.2 975.9 L946.9 963.4 L940.6 953.9 L936.9 947.6 L933.1 939.1 L929.9 942.6 L926.8 945.7 L922.4 943.2 L919.9 944.1 L918.0 948.9 L915.5 957.1 L911.7 972.8 L907.9 990.4 L904.1 1004.3 L900.3 1014.3 L895.9 1025.7 L893.4 1043.3 L890.3 1050.2 L885.9 1062.2 L881.5 1069.7 L879.0 1078.5 L875.8 1077.3 L872.0 1072.2 L868.9 1058.4 L865.1 1034.5 L861.6 1005.5Z" fill="#b6dcf7"/>
<line x1="857.9" y1="821.0" x2="1368.0" y2="821.0" stroke="#050505" stroke-width="1.85" stroke-dasharray="8.8 8.56"/>
<line x1="857.9" y1="1023.3" x2="1368.0" y2="1023.3" stroke="#050505" stroke-width="1.85" stroke-dasharray="8.8 8.56"/>
<path d="M861.6 984.8 L865.1 998.0 L868.9 1013.1 L872.0 1022.5 L875.8 1018.1 L879.2 1013.7 L881.5 1000.5 L885.2 994.8 L889.0 990.4 L893.4 987.3 L895.6 975.3 L899.7 978.5 L903.5 975.3 L906.0 969.0 L908.5 956.4 L911.0 941.3 L912.3 935.9 L915.5 917.1 L918.6 903.2 L921.7 897.6 L924.3 897.6 L926.8 900.1 L930.6 896.9 L933.3 893.8 L936.2 904.5 L940.6 919.6 L945.7 932.8 L950.7 939.1 L954.5 942.5 L959.5 940.3 L964.5 936.6 L969.0 929.7 L974.0 919.6 L976.5 910.8 L980.3 899.4 L983.4 890.0 L987.2 884.3 L991.6 878.7 L994.1 866.1 L998.5 859.2 L1002.9 854.8 L1008.0 855.1 L1010.5 849.7 L1014.9 848.5 L1018.7 843.4 L1020.0 841.6 L1022.5 841.0 L1025.3 833.4 L1029.4 837.8 L1032.6 846.6 L1035.7 860.5 L1038.9 872.4 L1042.7 880.6 L1045.8 893.8 L1049.0 898.9 L1052.7 901.4 L1055.9 895.1 L1059.3 901.8 L1062.2 891.3 L1065.9 892.6 L1069.7 891.3 L1073.5 883.1 L1077.3 871.8 L1080.4 859.9 L1082.9 846.6 L1086.1 841.0 L1089.9 841.6 L1093.6 847.3 L1096.8 861.1 L1100.6 862.4 L1104.1 865.5 L1106.9 876.9 L1111.9 884.4 L1116.3 892.6 L1120.7 905.8 L1123.8 908.3 L1127.6 908.3 L1130.8 898.3 L1133.9 907.7 L1137.7 906.4 L1140.8 901.4 L1145.2 905.2 L1149.0 905.2 L1154.7 898.3 L1157.8 905.8 L1161.6 901.4 L1165.4 900.8 L1169.2 897.0 L1172.3 900.8 L1175.1 885.7 L1178.6 889.4 L1181.7 885.0 L1186.2 878.1 L1189.3 876.9 L1190.0 877.2 L1192.5 876.8 L1195.3 871.3 L1199.4 871.5 L1202.6 881.6 L1205.7 890.4 L1208.9 885.4 L1212.7 881.0 L1215.8 872.2 L1219.2 866.8 L1222.7 873.4 L1226.5 875.1 L1230.3 878.5 L1233.4 884.1 L1236.8 883.5 L1239.7 891.4 L1243.5 891.7 L1251.0 895.5 L1254.2 905.5 L1257.3 913.7 L1260.5 918.1 L1264.3 913.7 L1267.0 908.7 L1270.6 910.3 L1274.1 909.9 L1277.1 904.5 L1280.6 907.4 L1283.8 907.0 L1286.9 901.7 L1290.7 892.9 L1294.5 886.6 L1298.3 881.0 L1301.4 878.1 L1304.5 882.9 L1307.7 882.9 L1311.5 879.7 L1314.9 877.6 L1318.1 887.3 L1321.5 886.9 L1324.7 896.1 L1328.5 901.7 L1331.6 908.0 L1335.4 907.4 L1339.2 915.0 L1342.9 918.7 L1346.1 922.9 L1348.9 917.1 L1352.4 924.4 L1356.2 928.8 L1359.9 927.6 L1362.7 935.5 L1366.2 934.2 L1369.4 933.8" fill="none" stroke="#149ced" stroke-width="3.4" stroke-linejoin="round" stroke-linecap="butt"/>
<line x1="943.2" y1="1126.2" x2="943.2" y2="1119.0" stroke="#505050" stroke-width="2.6"/>
<line x1="1028.0" y1="1126.2" x2="1028.0" y2="1119.0" stroke="#505050" stroke-width="2.6"/>
<line x1="1112.9" y1="1126.2" x2="1112.9" y2="1119.0" stroke="#505050" stroke-width="2.6"/>
<line x1="1197.8" y1="1126.2" x2="1197.8" y2="1119.0" stroke="#505050" stroke-width="2.6"/>
<line x1="1282.6" y1="1126.2" x2="1282.6" y2="1119.0" stroke="#505050" stroke-width="2.6"/>
<line x1="1367.5" y1="1126.2" x2="1367.5" y2="1119.0" stroke="#505050" stroke-width="2.6"/>
<line x1="858.3" y1="718.4" x2="865.1" y2="718.4" stroke="#505050" stroke-width="2.6"/>
<line x1="858.3" y1="922.3" x2="865.1" y2="922.3" stroke="#505050" stroke-width="2.6"/>
<line x1="858.3" y1="717.1" x2="858.3" y2="1128.0" stroke="#505050" stroke-width="3.6"/>
<line x1="856.5" y1="1126.2" x2="1368.8" y2="1126.2" stroke="#505050" stroke-width="3.6"/>
<text transform="translate(861.0 1158.1) scale(1 1.045)" class="r m">0</text>
<text transform="translate(944.3 1158.1) scale(1 1.045)" class="r m">100</text>
<text transform="translate(1027.8 1158.1) scale(1 1.045)" class="r m">200</text>
<text transform="translate(1111.5 1158.1) scale(1 1.045)" class="r m">300</text>
<text transform="translate(1194.3 1158.1) scale(1 1.045)" class="r m">400</text>
<text transform="translate(1286.4 1158.1) scale(1 1.045)" class="r m">500</text>
<text transform="translate(1370.0 1158.1) scale(1 1.045)" class="r m">600</text>
<text transform="translate(1114.7 1194.8) scale(1 1.02)" class="r m">lag (ms)</text>
<text transform="translate(852.0 726.0) scale(1 1.045)" class="r e">0.03</text>
<text transform="translate(852.0 928.5) scale(1 1.045)" class="r e">0</text>
<text transform="translate(852.0 1131.7) scale(1 1.045)" class="r e">−0.03</text>
<text transform="translate(1112.7 704.2) scale(1 1.02)" class="r m">End-only</text>
<text transform="translate(812.9 923.7) rotate(-90) scale(1 1.02)" class="v">Sequenceness</text>
<text transform="translate(763.0 808.4) rotate(-90) scale(1 1.02)" class="v">Forward</text>
<text transform="translate(763.0 1017.0) rotate(-90) scale(1 1.02)" class="v">Backward</text>
<path d="M779.0 726.5 L785.6 747.9 L781.8 745.6 L780.6 797.3 L780.0 833.3 L779.5 866.3 L779.3 893.3 L778.7 893.3 L778.5 866.3 L778.0 833.3 L777.4 797.3 L776.2 745.6 L772.4 747.9Z" fill="#888888"/>
<path d="M779.0 1111.6 L785.6 1090.2 L781.8 1092.5 L780.6 1040.8 L780.0 1004.8 L779.5 971.8 L779.3 944.8 L778.7 944.8 L778.5 971.8 L778.0 1004.8 L777.4 1040.8 L776.2 1092.5 L772.4 1090.2Z" fill="#888888"/>
</g>
</svg></body></html>
